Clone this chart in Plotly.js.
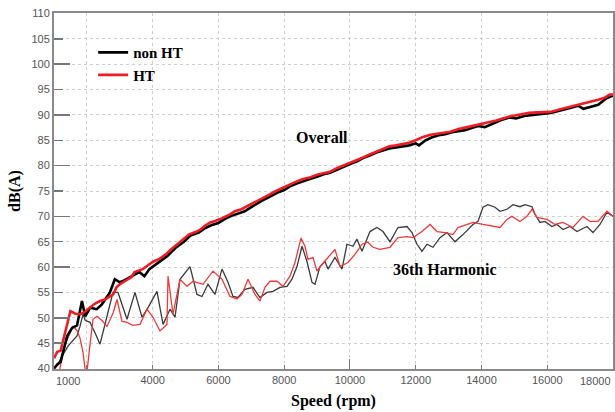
<!DOCTYPE html>
<html>
<head>
<meta charset="utf-8">
<script src="https://cdn.plot.ly/plotly-3.0.1.min.js"></script>
<style>html,body{margin:0;padding:0;background:#fff;}#chart{width:615px;height:412px;}</style>
</head>
<body>
<div id="chart"></div>
<script>
// ---- Data ----
const seriesNames = ["non HT", "HT"];

const rpmOverallNonHT = [1000,1100,1200,1400,1550,1700,1850,1950,2100,2300,2450,2550,2700,2850,3000,3150,3300,3450,3600,3750,3900,4000,4200,4450,4700,4950,5150,5400,5600,5800,6000,6200,6400,6600,6800,7000,7300,7600,7800,8000,8200,8400,8600,8800,9000,9200,9400,9600,9800,10000,10200,10400,10600,10800,11000,11200,11400,11600,11800,12000,12100,12300,12500,12700,12900,13100,13300,13500,13700,13900,14100,14300,14600,14850,15050,15300,15550,15800,16100,16400,16700,16950,17100,17300,17550,17800,18000];
const dbOverallNonHT  = [40.0,40.8,41.3,46.4,48.0,48.5,53.3,50.3,52.0,51.7,52.6,53.6,55.0,57.6,57.0,57.4,58.0,58.5,59.0,58.2,59.6,60.1,61.0,62.2,63.8,65.0,66.2,66.8,67.7,68.3,68.7,69.5,70.1,70.6,71.0,71.8,73.0,74.0,74.7,75.2,76.0,76.5,77.0,77.4,77.8,78.3,78.6,79.2,79.8,80.3,80.8,81.5,82.0,82.6,83.0,83.4,83.6,83.8,84.0,84.4,84.0,85.0,85.6,86.0,86.2,86.6,86.8,87.0,87.4,87.8,87.6,88.2,89.0,89.5,89.3,89.8,90.0,90.2,90.4,90.9,91.4,91.8,91.2,91.5,92.0,93.3,93.8];

const rpmOverallHT = [1000,1100,1200,1300,1400,1500,1650,1800,1900,2000,2100,2250,2400,2550,2700,2800,2900,3000,3200,3350,3450,3600,3700,3850,4000,4200,4400,4550,4750,4900,5100,5300,5450,5600,5750,5900,6100,6350,6500,6700,6950,7150,7350,7550,7750,7950,8150,8350,8550,8800,9000,9200,9400,9600,9800,10000,10200,10400,10600,10800,11000,11200,11400,11600,11800,12000,12200,12450,12700,12900,13050,13300,13650,13900,14250,14450,14650,14850,15100,15450,15700,16100,16400,16700,16950,17300,17550,17750,17900,18000];
const dbOverallHT  = [42.0,43.3,43.5,46.0,49.0,51.3,50.8,50.7,51.0,51.5,52.0,52.8,53.3,53.6,54.2,54.6,56.0,56.6,57.4,58.0,59.0,59.3,59.6,60.3,61.0,61.6,62.5,63.4,64.5,65.2,66.4,66.9,67.4,68.2,68.8,69.1,69.6,70.4,71.0,71.4,72.3,72.9,73.6,74.3,75.0,75.6,76.3,76.8,77.3,77.7,78.2,78.5,78.8,79.5,80.0,80.6,81.0,81.6,82.2,82.7,83.3,83.8,84.0,84.2,84.5,85.0,85.6,86.1,86.3,86.6,86.7,87.2,87.7,88.0,88.5,88.9,89.3,89.7,90.0,90.4,90.5,90.6,91.1,91.6,91.9,92.6,93.0,93.4,94.0,94.0];

const rpmHarmNonHT = [1100,1250,1426,1578,1699,1791,1882,1950,2095,2250,2399,2612,2794,2946,3100,3220,3463,3676,3859,4132,4315,4528,4680,4832,5136,5349,5501,5683,5896,6109,6291,6443,6595,6808,7052,7264,7477,7660,7873,8086,8237,8390,8542,8694,8846,8937,9089,9241,9332,9545,9758,9910,10092,10214,10366,10518,10609,10822,11005,11218,11461,11735,11887,12039,12191,12343,12525,12738,12951,13194,13437,13741,13894,14046,14198,14411,14563,14776,14958,15171,15323,15536,15627,15779,15931,16144,16296,16479,16692,16905,17209,17391,17604,17817,18000];
const dbHarmNonHT  = [40.5,42.5,44.4,45.5,46.4,48.3,50.7,49.5,49.1,47.0,44.8,50.3,55.0,55.0,52.0,49.7,55.0,50.1,52.0,55.2,48.7,51.7,50.1,57.6,60.1,54.6,54.2,56.6,54.6,59.6,57.0,54.2,54.0,55.6,56.0,54.0,55.0,55.2,56.0,56.2,57.6,60.1,64.1,61.1,57.0,56.6,60.1,61.1,59.6,61.9,59.6,64.5,64.1,65.5,63.1,65.5,67.0,67.8,67.0,65.0,67.8,68.0,66.8,64.5,63.1,64.5,63.9,65.8,66.8,65.0,66.4,68.4,69.0,71.8,72.3,71.8,71.0,71.4,72.3,71.9,72.3,71.9,70.4,68.8,69.0,68.0,68.4,67.4,68.0,67.0,68.0,66.8,68.4,70.8,70.0];

const rpmHarmHT = [1150,1300,1487,1578,1700,1791,1882,1980,2100,2186,2308,2450,2612,2800,2916,3068,3220,3400,3615,3828,4011,4223,4436,4467,4619,4832,5045,5227,5531,5835,6109,6352,6565,6717,6900,7112,7264,7416,7568,7781,7964,8177,8329,8511,8633,8724,8876,8998,9150,9332,9545,9697,9940,10153,10366,10549,10700,10913,11218,11461,11735,11917,12191,12434,12647,12890,13133,13285,13559,13741,14046,14350,14563,14776,14928,15171,15384,15536,15688,15992,16235,16479,16783,17087,17300,17543,17817,18000];
const dbHarmHT  = [39.0,44.0,47.0,48.3,47.5,46.0,43.2,38.0,45.0,49.7,50.3,49.5,48.3,51.0,53.6,49.3,49.1,48.5,48.7,51.7,50.1,47.4,48.7,58.2,50.7,57.6,56.2,57.2,56.6,59.2,57.6,54.2,53.7,54.6,57.6,54.6,53.3,56.0,57.2,57.2,56.2,58.2,60.9,65.7,64.1,61.5,61.9,59.2,60.5,61.9,63.5,60.1,60.9,62.5,64.5,64.9,63.9,63.5,63.9,65.8,66.0,65.8,67.0,68.4,67.0,66.8,66.4,67.8,68.4,68.8,68.4,68.0,67.8,69.4,70.0,69.0,70.0,71.4,69.8,69.4,68.4,68.8,67.8,70.0,69.0,69.0,71.0,70.0];

const xTickVals = [2000,4000,6000,8000,10000,12000,14000,16000,18000];
const xTickText = ["","4000","6000","8000","10000","12000","14000","16000",""];
const xEndLabels = ["1000","18000"];
const yTickVals = [40,45,50,55,60,65,70,75,80,85,90,95,100,105,110];
const labelOverall = "Overall";
const labelHarmonic = "36th Harmonic";
const xTitle = "Speed (rpm)";
const yTitle = "dB(A)";

// ---- Plot ----
const serif = "Liberation Serif, Times New Roman, serif";
const sans = "Liberation Sans, Arial, sans-serif";
const xRange = [1000, 18000];
const yRange = [39.9, 110.1];

const traces = [
  {x: rpmHarmNonHT, y: dbHarmNonHT, mode: "lines", line: {color: "#3a3a3a", width: 1.3}, showlegend: false, hoverinfo: "skip"},
  {x: rpmHarmHT, y: dbHarmHT, mode: "lines", line: {color: "#f03a3a", width: 1.3}, showlegend: false, hoverinfo: "skip"},
  {x: rpmOverallNonHT, y: dbOverallNonHT, mode: "lines", name: "<b>" + seriesNames[0] + "</b>", line: {color: "#000000", width: 2.6}},
  {x: rpmOverallHT, y: dbOverallHT, mode: "lines", name: "<b>" + seriesNames[1] + "</b>", line: {color: "#ee1c24", width: 2.6}},
  // helper invisible trace for secondary axes (long ticks)
  {x: [xRange[0]], y: [yRange[0]], xaxis: "x2", yaxis: "y2", mode: "markers", marker: {opacity: 0}, showlegend: false, hoverinfo: "skip"}
];

const layout = {
  width: 615, height: 412,
  margin: {l: 54, r: 2, t: 13, b: 43},
  paper_bgcolor: "#ffffff", plot_bgcolor: "#ffffff",
  showlegend: true,
  legend: {x: 0.07, y: 0.935, xanchor: "left", yanchor: "top", bgcolor: "rgba(0,0,0,0)",
           font: {family: serif, size: 15, color: "#000"}, itemwidth: 30, tracegroupgap: 0},
  xaxis: {
    range: xRange, tickmode: "array", tickvals: xTickVals, ticktext: xTickText,
    showgrid: true, gridcolor: "#cfcfcf", griddash: "dot", gridwidth: 1,
    ticks: "inside", ticklen: 4, tickcolor: "#777", tickwidth: 1,
    showline: true, linecolor: "#8a8a8a", linewidth: 2, mirror: true,
    zeroline: false, tickfont: {family: sans, size: 11, color: "#555"},
    title: {text: "<b>" + xTitle + "</b>", font: {family: serif, size: 16, color: "#000"}, standoff: 10}
  },
  yaxis: {
    range: yRange, tickmode: "array", tickvals: yTickVals,
    showgrid: true, gridcolor: "#cfcfcf", griddash: "dot", gridwidth: 1,
    ticks: "inside", ticklen: 9, tickcolor: "#777", tickwidth: 1.5,
    showline: true, linecolor: "#8a8a8a", linewidth: 2, mirror: true,
    zeroline: false, tickfont: {family: sans, size: 11, color: "#555"},
    title: {text: "<b>" + yTitle + "</b>", font: {family: serif, size: 16, color: "#000"}, standoff: 7}
  },
  xaxis2: {overlaying: "x", range: xRange, tickmode: "array", tickvals: [10000], showticklabels: false,
           ticks: "inside", ticklen: 10, tickcolor: "#777", showgrid: false, zeroline: false, showline: false},
  yaxis2: {overlaying: "y", range: yRange, tickmode: "array", tickvals: [50,60,70,80,90,100], showticklabels: false,
           ticks: "inside", ticklen: 16, tickcolor: "#777", tickwidth: 1.5, showgrid: false, zeroline: false, showline: false},
  annotations: [
    {x: 9150, y: 85.5, xref: "x", yref: "y", text: "<b>" + labelOverall + "</b>", showarrow: false,
     font: {family: serif, size: 16, color: "#000"}},
    {x: 12900, y: 59.5, xref: "x", yref: "y", text: "<b>" + labelHarmonic + "</b>", showarrow: false,
     font: {family: serif, size: 16, color: "#000"}},
    {x: xRange[0], y: 0, xref: "x", yref: "paper", yshift: -4, xanchor: "left", yanchor: "top",
     text: xEndLabels[0], showarrow: false, font: {family: sans, size: 11, color: "#555"}},
    {x: xRange[1], y: 0, xref: "x", yref: "paper", yshift: -4, xanchor: "right", yanchor: "top",
     text: xEndLabels[1], showarrow: false, font: {family: sans, size: 11, color: "#555"}}
  ]
};

Plotly.newPlot("chart", traces, layout, {staticPlot: true, displayModeBar: false});
</script>
</body>
</html>
